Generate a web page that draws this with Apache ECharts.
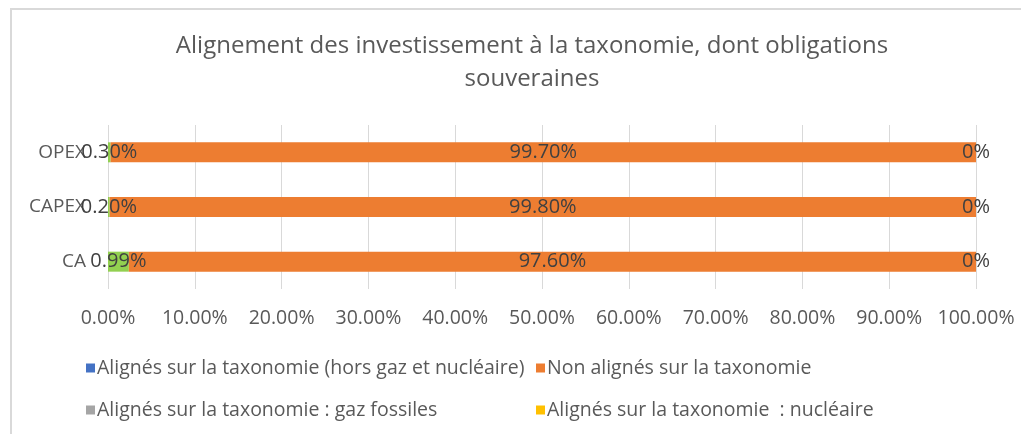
<!DOCTYPE html>
<html lang="fr">
<head>
    <meta charset="UTF-8">
    <title>Alignement taxonomie</title>
    <script src="https://cdn.jsdelivr.net/npm/echarts@6/dist/echarts.min.js"></script>
    <style>
        html, body { margin: 0; padding: 0; background: #fff; }
        #frame { position: absolute; left: 10px; top: 8px; width: 1030px; height: 450px;
                 border-left: 2px solid #d9d9d9; border-top: 2px solid #d9d9d9; }
        #chart { position: absolute; left: 0; top: 0; width: 1021px; height: 434px; }
    </style>
</head>
<body>
<div id="frame"></div>
<div id="chart"></div>
<script>
    var categories = ['CA', 'CAPEX', 'OPEX'];
    // segment vert (hors légende) + étiquettes telles qu'affichées
    var greenValues = [2.4, 0.2, 0.3];
    var greenLabels = ['0.99%', '0.20%', '0.30%'];
    var alignedValues = [0, 0, 0];
    var nonAlignedValues = [97.6, 99.8, 99.7];
    var gasValues = [0, 0, 0];
    var nuclearValues = [0, 0, 0];

    var txt = '#595959';
    var font = 'Open Sans';

    var legendText = { color: txt, fontFamily: font, fontSize: 19.5, lineHeight: 20, padding: [0, 0, 0, -3] };

    var option = {
        animation: false,
        title: {
            text: 'Alignement des investissement à la taxonomie, dont obligations\nsouveraines',
            left: 527, top: 25, textAlign: 'center',
            textStyle: { color: txt, fontFamily: font, fontSize: 24, fontWeight: 'normal', lineHeight: 33 }
        },
        legend: [{
            orient: 'vertical', left: 81, top: 353,
            itemWidth: 9, itemHeight: 9, itemGap: 22,
            icon: 'rect', textStyle: legendText,
            data: ['Alignés sur la taxonomie (hors gaz et nucléaire)', 'Alignés sur la taxonomie : gaz fossiles']
        }, {
            orient: 'vertical', left: 531, top: 353,
            itemWidth: 9, itemHeight: 9, itemGap: 22,
            icon: 'rect', textStyle: legendText,
            data: ['Non alignés sur la taxonomie', 'Alignés sur la taxonomie  : nucléaire']
        }],
        grid: { left: 108, right: 45, top: 125, height: 164 },
        xAxis: {
            type: 'value', min: 0, max: 100, interval: 10,
            axisLine: { show: false }, axisTick: { show: false },
            splitLine: { lineStyle: { color: '#d9d9d9', width: 1 } },
            axisLabel: {
                color: txt, fontFamily: font, fontSize: 19.5, margin: 19,
                formatter: function (v) { return v.toFixed(2) + '%'; }
            }
        },
        yAxis: {
            type: 'category', data: categories,
            axisLine: { show: false }, axisTick: { show: false },
            axisLabel: { color: txt, fontFamily: font, fontSize: 19, margin: 22 }
        },
        series: [{
            name: 'Alignés verts', type: 'bar', stack: 't', barWidth: 20,
            data: greenValues, itemStyle: { color: '#92D050' },
            label: {
                show: true, position: 'inside', color: '#404040', fontFamily: font, fontSize: 20,
                formatter: function (p) { return greenLabels[p.dataIndex]; }
            }
        }, {
            name: 'Alignés sur la taxonomie (hors gaz et nucléaire)', type: 'bar', stack: 't',
            data: alignedValues, itemStyle: { color: '#4472C4' }
        }, {
            name: 'Non alignés sur la taxonomie', type: 'bar', stack: 't',
            data: nonAlignedValues, itemStyle: { color: '#ED7D31' },
            label: {
                show: true, position: 'inside', color: '#404040', fontFamily: font, fontSize: 20,
                formatter: function (p) { return p.value.toFixed(2) + '%'; }
            }
        }, {
            name: 'Alignés sur la taxonomie : gaz fossiles', type: 'bar', stack: 't',
            data: gasValues, itemStyle: { color: '#A5A5A5' },
            label: {
                show: true, position: 'inside', color: '#404040', fontFamily: font, fontSize: 20,
                formatter: function (p) { return p.value + '%'; }
            }
        }, {
            name: 'Alignés sur la taxonomie  : nucléaire', type: 'bar', stack: 't',
            data: nuclearValues, itemStyle: { color: '#FFC000' }
        }]
    };

    var chart = echarts.init(document.getElementById('chart'));
    chart.setOption(option);
</script>
</body>
</html>
